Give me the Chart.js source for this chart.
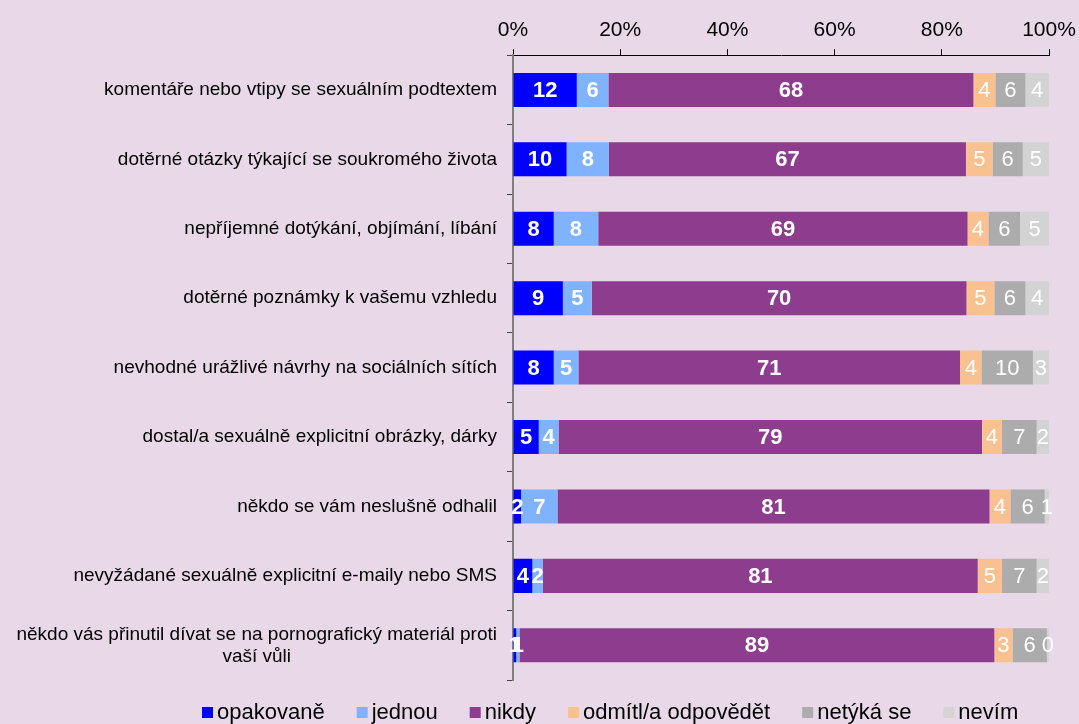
<!DOCTYPE html>
<html>
<head>
<meta charset="utf-8">
<script src="https://cdn.jsdelivr.net/npm/chart.js@4/dist/chart.umd.min.js"></script>
<style>
  html, body { margin: 0; padding: 0; background: #e8d8e8; }
  #wrap { width: 1079px; height: 724px; position: relative; }
</style>
</head>
<body>
<div id="wrap"><canvas id="chart"></canvas></div>
<script>
const categories = [
  'komentáře nebo vtipy se sexuálním podtextem',
  'dotěrné otázky týkající se soukromého života',
  'nepříjemné dotýkání, objímání, líbání',
  'dotěrné poznámky k vašemu vzhledu',
  'nevhodné urážlivé návrhy na sociálních sítích',
  'dostal/a sexuálně explicitní obrázky, dárky',
  'někdo se vám neslušně odhalil',
  'nevyžádané sexuálně explicitní e-maily nebo SMS',
  ['někdo vás přinutil dívat se na pornografický materiál proti', 'vaší vůli']
];

// shares in % (bar widths; labels are the rounded values)
const opakovane = [11.9, 10.0, 7.6, 9.3, 7.6, 4.8, 1.5, 3.6, 0.6];
const jednou    = [5.9, 7.9, 8.3, 5.4, 4.6, 3.7, 6.8, 2.0, 0.6];
const nikdy     = [68.1, 66.6, 68.9, 69.9, 71.2, 79.0, 80.6, 81.1, 88.6];
const odmitl    = [4.1, 5.0, 3.9, 5.2, 4.0, 3.7, 3.9, 4.5, 3.4];
const netyka    = [5.6, 5.6, 5.9, 5.8, 9.6, 6.5, 6.4, 6.5, 6.4];
const nevim     = [4.4, 4.9, 5.4, 4.4, 3.0, 2.3, 0.8, 2.3, 0.4];

const xTicks = [0, 20, 40, 60, 80, 100];

const FONT = '"Liberation Sans", Arial, sans-serif';

const series = [
  { label: 'opakovaně', data: opakovane, color: '#0000ff', bold: true },
  { label: 'jednou', data: jednou, color: '#80b3ff', bold: true },
  { label: 'nikdy', data: nikdy, color: '#8e3c8e', bold: true },
  { label: 'odmítl/a odpovědět', data: odmitl, color: '#f9c190', bold: false },
  { label: 'netýká se', data: netyka, color: '#acacac', bold: false },
  { label: 'nevím', data: nevim, color: '#d3d3d3', bold: false }
];

// value labels inside the segments
const valueLabels = {
  id: 'valueLabels',
  afterDatasetsDraw(chart) {
    const ctx = chart.ctx;
    ctx.save();
    ctx.textAlign = 'center';
    ctx.textBaseline = 'middle';
    ctx.fillStyle = '#ffffff';
    chart.data.datasets.forEach((ds, i) => {
      const meta = chart.getDatasetMeta(i);
      ctx.font = (series[i].bold ? 'bold ' : '') + '22px ' + FONT;
      meta.data.forEach((bar, j) => {
        const cx = (bar.x + bar.base) / 2;
        ctx.fillText(String(Math.round(ds.data[j])), cx, bar.y + 1);
      });
    });
    ctx.restore();
  }
};

// category labels left of the axis (wrapped ones centred line by line)
const catLabels = {
  id: 'catLabels',
  afterDraw(chart) {
    const ctx = chart.ctx;
    const yScale = chart.scales.y;
    const right = chart.chartArea.left - 16;
    const lineH = 22;
    ctx.save();
    ctx.font = '19px ' + FONT;
    ctx.fillStyle = '#000000';
    ctx.textBaseline = 'middle';
    categories.forEach((c, i) => {
      const lines = Array.isArray(c) ? c : [c];
      const y = yScale.getPixelForValue(i);
      const w = Math.max(...lines.map(l => ctx.measureText(l).width));
      const cx = right - w / 2;
      lines.forEach((l, k) => {
        ctx.textAlign = 'center';
        ctx.fillText(l, cx, y + (k - (lines.length - 1) / 2) * lineH);
      });
    });
    ctx.restore();
  }
};

// legend drawn by hand so the box sits close to its text
const legendRow = {
  id: 'legendRow',
  afterDraw(chart) {
    const ctx = chart.ctx;
    let x = 202;
    const y = 713;
    ctx.save();
    ctx.font = '22px ' + FONT;
    ctx.textBaseline = 'middle';
    ctx.textAlign = 'left';
    series.forEach(s => {
      ctx.fillStyle = s.color;
      ctx.fillRect(x, y - 6, 11, 11);
      ctx.fillStyle = '#000000';
      ctx.fillText(s.label, x + 15, y);
      x += 15 + ctx.measureText(s.label).width + 32;
    });
    ctx.restore();
  }
};

new Chart(document.getElementById('chart'), {
  type: 'bar',
  data: {
    labels: categories,
    datasets: series.map(s => ({
      label: s.label,
      data: s.data,
      backgroundColor: s.color,
      borderWidth: 0,
      barPercentage: 0.49,
      categoryPercentage: 1
    }))
  },
  options: {
    indexAxis: 'y',
    responsive: true,
    maintainAspectRatio: false,
    animation: false,
    layout: { padding: { left: 507, right: 30, top: 12, bottom: 44 } },
    plugins: {
      legend: { display: false },
      tooltip: { enabled: false }
    },
    scales: {
      x: {
        position: 'top',
        stacked: true,
        min: 0,
        max: 100,
        afterBuildTicks(scale) {
          scale.ticks = xTicks.map(v => ({ value: v }));
        },
        afterFit(scale) {
          scale.paddingLeft = 0;
          scale.paddingRight = 0;
        },
        ticks: {
          callback: v => v + '%',
          color: '#000000',
          font: { family: FONT, size: 21 },
          padding: 6,
          maxRotation: 0
        },
        grid: { drawOnChartArea: false, drawTicks: true, tickLength: 6, color: '#000000' },
        border: { display: true, color: '#000000', width: 1 }
      },
      y: {
        stacked: true,
        ticks: { display: false },
        grid: { drawOnChartArea: false, drawTicks: true, tickLength: 6, color: '#444444', offset: true },
        border: { display: true, color: '#7f7f7f', width: 2 }
      }
    }
  },
  plugins: [valueLabels, catLabels, legendRow]
});
</script>
</body>
</html>
